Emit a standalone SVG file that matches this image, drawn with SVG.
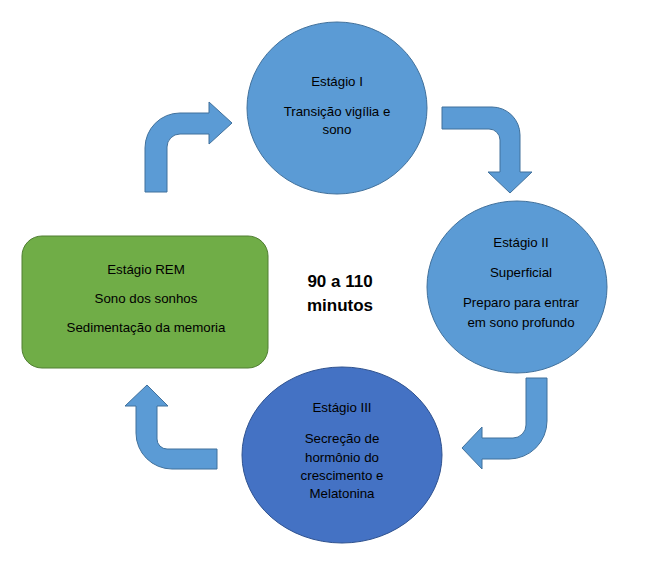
<svg xmlns="http://www.w3.org/2000/svg" width="649" height="582" viewBox="0 0 649 582">
<style>
.t{font-family:"Liberation Sans",Arial,sans-serif;font-size:13.3px;fill:#000;text-anchor:middle}
.b{font-family:"Liberation Sans",Arial,sans-serif;font-size:17px;font-weight:bold;fill:#000;text-anchor:middle}
.arr{fill:#5b9bd5;stroke:#41719c;stroke-width:1}
</style>
<rect width="649" height="582" fill="#fff"/>
<g id="connectors">
<path class="arr" d="M145,192 L145,148 A35,35 0 0 1 180,113 L209,113 L209,102 L232,123 L209,144 L209,134 L180,134 A13,13 0 0 0 167,147 L167,192 Z"/>
<path class="arr" d="M442,107 L492,107 A28,28 0 0 1 520,135 L520,172 L532,172 L510,193 L488,172 L500,172 L500,140 A11,11 0 0 0 489,129 L442,129 Z"/>
<path class="arr" d="M526,378 L547,378 L547,421 A38,38 0 0 1 509,459 L482,459 L482,469 L462,448 L482,427 L482,438 L513,438 A13,13 0 0 0 526,425 Z"/>
<path class="arr" d="M217,449 L167,449 A10,10 0 0 1 157,439 L157,406 L168,406 L147,385 L125,406 L136,406 L136,433 A36,36 0 0 0 172,469 L217,469 Z"/>
</g>
<g id="stage1">
<ellipse cx="337" cy="108" rx="90" ry="86" fill="#5b9bd5" stroke="#41719c"/>
<text class="t" x="337" y="86">Estágio I</text>
<text class="t" x="337" y="116">Transição vigília e</text>
<text class="t" x="337" y="134">sono</text>
</g>
<g id="stage2">
<ellipse cx="517" cy="287" rx="90" ry="86" fill="#5b9bd5" stroke="#41719c"/>
<text class="t" x="521" y="247">Estágio II</text>
<text class="t" x="521" y="277">Superficial</text>
<text class="t" x="521" y="307">Preparo para entrar</text>
<text class="t" x="521" y="327">em sono profundo</text>
</g>
<g id="stage3">
<ellipse cx="342" cy="455" rx="100" ry="88" fill="#4472c4" stroke="#2f528f"/>
<text class="t" x="342" y="412">Estágio III</text>
<text class="t" x="342" y="443">Secreção de</text>
<text class="t" x="342" y="462">hormônio do</text>
<text class="t" x="342" y="480">crescimento e</text>
<text class="t" x="342" y="498">Melatonina</text>
</g>
<g id="rem">
<rect x="22" y="236" width="246" height="132" rx="20" fill="#70ad47" stroke="#507e32"/>
<text class="t" x="146" y="274">Estágio REM</text>
<text class="t" x="146" y="303">Sono dos sonhos</text>
<text class="t" x="146" y="332">Sedimentação da memoria</text>
</g>
<g id="center">
<text class="b" x="340" y="287">90 a 110</text>
<text class="b" x="340" y="311">minutos</text>
</g>
</svg>
